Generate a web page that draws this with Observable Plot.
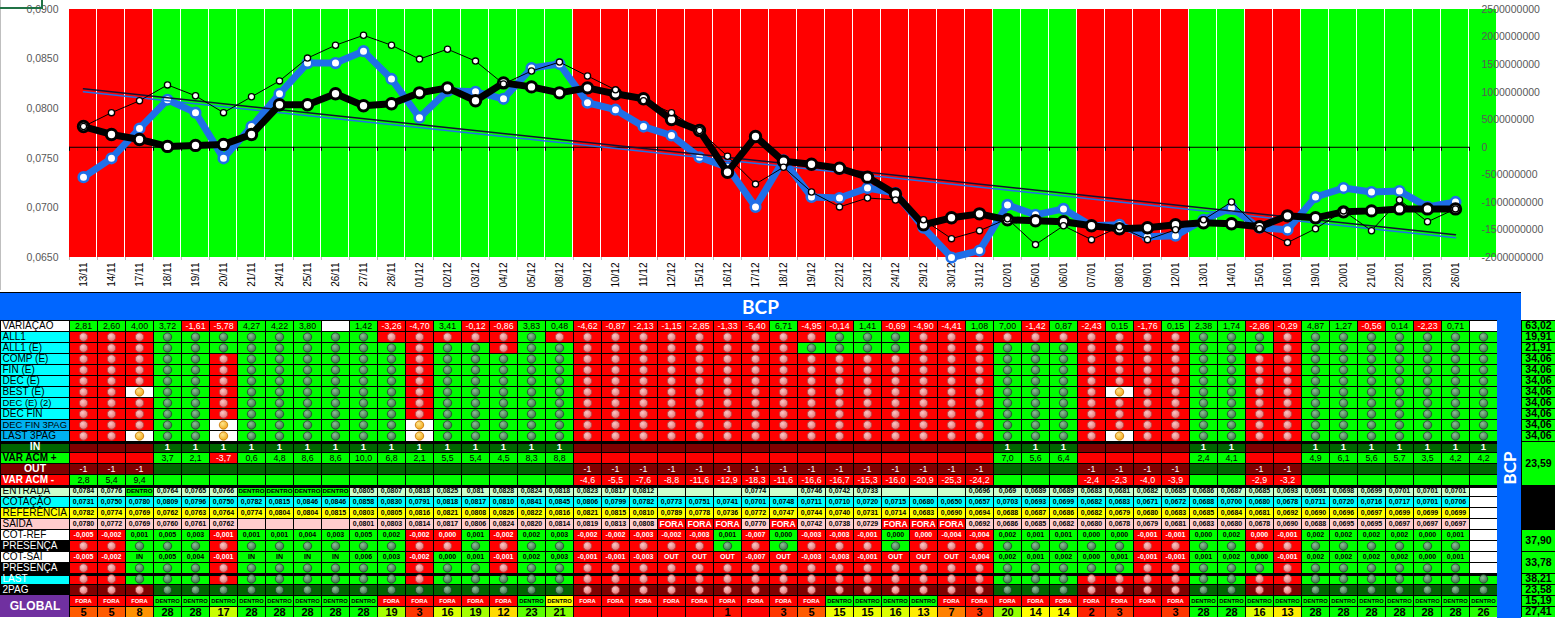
<!DOCTYPE html>
<html><head><meta charset="utf-8">
<script src="https://cdn.jsdelivr.net/npm/d3@7"></script>
<script src="https://cdn.jsdelivr.net/npm/@observablehq/plot@0.6"></script>
<style>
body{margin:0;background:#fff;}
#page{position:relative;width:1555px;height:618px;overflow:hidden;font-family:"Liberation Sans",Arial,sans-serif;}
.abs{position:absolute;}
#hdr{left:0;top:292px;width:1521px;height:27px;background:#0066ff;border-top:1px solid #000;color:#fff;font:bold 19px Lato,"Liberation Sans",sans-serif;display:flex;align-items:center;justify-content:center;}
#bcol{left:1497px;top:320px;width:24px;height:298px;background:#0066ff;}
#bcol span{position:absolute;left:50%;top:148px;transform:translate(-50%,-50%) rotate(-90deg);color:#fff;font:bold 17px Lato,"Liberation Sans",sans-serif;white-space:nowrap;}
#gline{left:0;top:0;width:1px;height:290px;background:#bfbfbf;}
#sel{left:0;top:0;width:41px;height:7px;border-right:2px solid #217346;border-bottom:2px solid #217346;}
</style></head>
<body>
<div id="page">
  <div id="chart" class="abs" style="left:0;top:0"></div>
  <div id="gline" class="abs"></div>
  <div id="sel" class="abs"></div>
  <div id="hdr" class="abs">BCP</div>
  <div id="labels" class="abs" style="left:0;top:320px"></div>
  <div id="grid" class="abs" style="left:69px;top:320px"></div>
  <div id="bcol" class="abs"><span>BCP</span></div>
  <div id="summ" class="abs" style="left:1521px;top:320px"></div>
</div>
<script>
// ---------------- DATA ----------------
const dates = ["13/11","14/11","17/11","18/11","19/11","20/11","21/11","24/11","25/11","26/11","27/11","28/11","01/12","02/12","03/12","04/12","05/12","08/12","09/12","10/12","11/12","12/12","15/12","16/12","17/12","18/12","19/12","22/12","23/12","24/12","29/12","30/12","31/12","02/01","05/01","06/01","07/01","08/01","09/01","12/01","13/01","14/01","15/01","16/01","19/01","20/01","21/01","22/01","23/01","26/01"];
const cotacao = [0.0731,0.0750,0.0780,0.0809,0.0796,0.0750,0.0782,0.0815,0.0846,0.0846,0.0858,0.0830,0.0791,0.0818,0.0817,0.0810,0.0841,0.0845,0.0806,0.0799,0.0782,0.0773,0.0751,0.0741,0.0701,0.0748,0.0711,0.0710,0.0720,0.0715,0.0680,0.0650,0.0657,0.0703,0.0693,0.0699,0.0682,0.0683,0.0671,0.0672,0.0688,0.0700,0.0680,0.0678,0.0711,0.0720,0.0716,0.0717,0.0701,0.0706];
const referencia = [0.0782,0.0774,0.0769,0.0762,0.0763,0.0764,0.0774,0.0804,0.0804,0.0815,0.0803,0.0805,0.0816,0.0821,0.0808,0.0826,0.0822,0.0816,0.0821,0.0815,0.0810,0.0789,0.0778,0.0736,0.0772,0.0747,0.0744,0.0740,0.0731,0.0714,0.0683,0.0690,0.0694,0.0688,0.0687,0.0686,0.0682,0.0679,0.0680,0.0683,0.0685,0.0684,0.0681,0.0692,0.0690,0.0696,0.0697,0.0699,0.0699,0.0699];
const linhaFina = [0.0782,0.0796,0.0808,0.0824,0.0813,0.0796,0.0812,0.0828,0.0851,0.0864,0.0874,0.0864,0.0850,0.0860,0.0848,0.0825,0.0838,0.0847,0.0833,0.0819,0.0808,0.0796,0.0778,0.0752,0.0724,0.0741,0.0716,0.0701,0.0710,0.0708,0.0688,0.0669,0.0677,0.0689,0.0663,0.0682,0.0668,0.0681,0.0668,0.0678,0.0688,0.0706,0.0679,0.0665,0.0679,0.0697,0.0677,0.0708,0.0686,0.0699];
const tendCotacao = [{i:0, v:0.0818},{i:49, v:0.0671}];
const tendReferencia = [{i:0, v:0.0820},{i:49, v:0.0673}];
const leftTicks = [0.065,0.070,0.075,0.080,0.085,0.090];
const rightTicks = [-2000000000,-1500000000,-1000000000,-500000000,0,500000000,1000000000,1500000000,2000000000,2500000000];

const rowLabels = ["VARIAÇÃO","ALL1","ALL1 (E)","COMP (E)","FIN (E)","DEC (E)","BEST (E)","DEC (E) (2)","DEC FIN","DEC FIN 3PAG","LAST 3PAG","IN","VAR ACM +","OUT","VAR ACM -","ENTRADA","COTAÇÃO","REFERÊNCIA","SAIDA","COT-REF","PRESENÇA","COT-SAI","PRESENÇA","LAST","2PAG","GLOBAL",""];
const variacao = [2.81,2.60,4.00,3.72,-1.61,-5.78,4.27,4.22,3.80,null,1.42,-3.26,-4.70,3.41,-0.12,-0.86,3.83,0.48,-4.62,-0.87,-2.13,-1.15,-2.85,-1.33,-5.40,6.71,-4.95,-0.14,1.41,-0.69,-4.90,-4.41,1.08,7.00,-1.42,0.87,-2.43,0.15,-1.76,0.15,2.38,1.74,-2.86,-0.29,4.87,1.27,-0.56,0.14,-2.23,0.71,null];
const all1      = "RRR GGGGGGGG RRRRR G RRRRRRRRRR GGG RRRRRRRRRR GGG R GGGGGGG";
const all1E     = "RRR GGGGGGGGG R GG R GG RRRRRRRR GGGG RRR GGG RRRR GGG R GGGGGGG";
const compE     = "RRR GG R GGGGGG R GGGGG RRRRRRRRRRRRRRR GGG RRRR GG RR GGGGGGG";
const finE      = "RRR GG R GGGGGG R GGGGG RRRRRRRRRRRRRRR GGG RRRR GG RR GGGGGGG";
const decE      = "RRR GG R GGGGGG R GGGGG RRRRRRRRRRRRRRR GGG RRRR GG RR GGGGGGG";
const bestE     = "RRY GG R GGGGGG R GGGGG RRRRRRRRRRRRRRR GGG RYRR GG RR GGGGGGG";
const decE2     = "RRR GG R GGGGGG R GGGGG RRRRRRRRRRRRRRR GGG RRRR GG RR GGGGGGG";
const decFin    = "RRR GG R GGGGGG R GGGGG RRRRRRRRRRRRRRR GGG RRRR GG RR GGGGGGG";
const decFin3   = "RRR GG Y GGGGGG Y GGGGG RRRRRRRRRRRRRRR GGG RRRR GG RR GGGGGGG";
const last3     = "RRY GG Y GGGGGG Y GGGGG RRRRRRRRRRRRRRR GGG RYRR GG RR GGGGGGG";
const inFlag    = "000 111111111111111 000000000000000 111 0000 11 00 1111111";
const outFlag   = "111 000000000000000 111111111111111 000 1111 00 11 0000000";
const varAcmPos = [null,null,null,3.7,2.1,-3.7,0.6,4.8,8.6,8.6,10.0,6.8,2.1,5.5,5.4,4.5,8.3,8.8,null,null,null,null,null,null,null,null,null,null,null,null,null,null,null,7.0,5.6,6.4,null,null,null,null,2.4,4.1,null,null,4.9,6.1,5.6,5.7,3.5,4.2,4.2];
const varAcmNeg = [2.8,5.4,9.4,null,null,null,null,null,null,null,null,null,null,null,null,null,null,null,-4.6,-5.5,-7.6,-8.8,-11.6,-12.9,-18.3,-11.6,-16.6,-16.7,-15.3,-16.0,-20.9,-25.3,-24.2,null,null,null,-2.4,-2.3,-4.0,-3.9,null,null,-2.9,-3.2,null,null,null,null,null,null,null];
const entrada = [0.0784,0.0776,"DENTRO",0.0764,0.0765,0.0766,"DENTRO","DENTRO","DENTRO","DENTRO",0.0805,0.0807,0.0818,0.0825,0.081,0.0828,0.0824,0.0818,0.0823,0.0817,0.0812,null,null,null,0.0774,null,0.0746,0.0742,0.0733,null,null,null,0.0696,0.069,0.0689,0.0689,0.0683,0.0681,0.0682,0.0685,0.0686,0.0687,0.0685,0.0693,0.0691,0.0698,0.0699,0.0701,0.0701,0.0701];
const saida = [0.0780,0.0772,0.0769,0.0760,0.0761,0.0762,null,null,null,null,0.0801,0.0803,0.0814,0.0817,0.0806,0.0824,0.0820,0.0814,0.0819,0.0813,0.0808,"FORA","FORA","FORA",0.0770,"FORA",0.0742,0.0738,0.0729,"FORA","FORA","FORA",0.0692,0.0686,0.0685,0.0682,0.0680,0.0678,0.0679,0.0681,0.0683,0.0680,0.0678,0.0690,0.0688,0.0695,0.0695,0.0697,0.0697,0.0697];
const cotRef = [-0.005,-0.002,0.001,0.005,0.003,-0.001,0.001,0.001,0.004,0.003,0.005,0.002,-0.002,0.000,0.001,-0.002,0.002,0.003,-0.002,-0.002,-0.003,-0.002,-0.003,0.001,-0.007,0.000,-0.003,-0.003,-0.001,0.000,0.000,-0.004,-0.004,0.002,0.001,0.001,0.000,0.000,-0.001,-0.001,0.000,0.002,0.000,-0.001,0.002,0.002,0.002,0.002,0.000,0.001];
const cotRefCor = "RRGGGRGGGG GGRRGRGGRR RRRGRGRRRG RRRGGGGGRR GGRRGGGGGG";
const cotSai = [-0.005,-0.002,"IN",0.005,0.004,-0.001,"IN","IN","IN","IN",0.006,0.003,-0.002,0.000,0.001,-0.001,0.002,0.003,-0.001,-0.001,-0.003,"OUT","OUT","OUT",-0.007,"OUT",-0.003,-0.003,-0.001,"OUT","OUT","OUT",-0.004,0.002,0.001,0.002,0.000,0.001,-0.001,-0.001,0.001,0.002,0.000,-0.001,0.002,0.002,0.002,0.002,0.000,0.001];
const cotSaiCor = "RRGGGRGGGG GGRGGRGGRR RRRRRRRRRR RRRGGGGGRR GGGRGGGGGG";
const lastRow   = "RR GGG R GGGGGG R GGGGG RRRRRRRRRRRRRRR GGG RRRR GG RR GGGGGGG";
const pag2      = "DDD ggggggggggggggg DDDDDDDDDDDDDDD ggg DDDD gg DD ggggggg";
const globalTxt = "FFF DDDDDDDD FFFFF DY FFFFFFFFF DDDD FFFFFFFFF DDDDDDDDDDD";
const globalNum = [5,5,8,28,28,17,28,28,28,28,28,19,3,16,19,12,23,21,null,null,null,null,null,1,null,3,5,15,15,16,13,7,3,20,14,14,2,3,null,3,28,28,16,13,28,28,28,28,28,28,26];
const summaryValues = [63.02,19.91,21.91,34.06,34.06,34.06,34.06,34.06,34.06,34.06,34.06,23.59,null,37.90,33.78,38.21,23.58,15.19,27.41];
const summaryFirstRow = [0,1,2,3,4,5,6,7,8,9,10,11,15,19,21,23,24,25,26];
const summaryLastRow  = [0,1,2,3,4,5,6,7,8,9,10,14,18,20,22,23,24,25,26];

// ---------------- HELPERS / STYLES ----------------
const loc = d3.formatLocale({decimal: ",", thousands: ".", grouping: [3], currency: ["", ""], minus: "-"});
const f1 = loc.format(".1f"), f2 = loc.format(".2f"), f3 = loc.format(".3f"), f4 = loc.format(".4f"), f4t = loc.format(".4~f");
const seq = s => s.replace(/\s+/g, "").split("");
const RED="#ff0000", GREEN="#00ff00", DKGREEN="#006600", DKRED="#800000", WHITE="#ffffff", CYAN="#00ffff", YELLOW="#ffff00", PINK="#ffcccc", LGREEN="#ccffcc", BLACK="#000000";
const stateFill = {R: RED, G: GREEN, Y: WHITE, D: DKRED, g: DKGREEN};
const dotFill = {R: "url(#gR)", G: "url(#gG)", Y: "url(#gY)", D: "url(#gR)", g: "url(#gG)"};
const dotStroke = {R: "#b84444", G: "#24502e", Y: "#c97d0a", D: "#9c2f2f", g: "#1c4224"};
const FONT = '"Liberation Sans", Arial, sans-serif';

// ---------------- CHART ----------------
const cols = d3.range(51);
const series = dates.map((d, i) => ({i, cot: cotacao[i], ref: referencia[i], fin: linhaFina[i]}));
const inArr = seq(inFlag);
const rightToLeft = d3.scaleLinear([-2000000000, 2500000000], [0.065, 0.09]);
const BLUE = "#1f6fe8";

const chart = Plot.plot({
  width: 1555, height: 292,
  marginLeft: 68, marginRight: 58, marginTop: 9, marginBottom: 35,
  x: {type: "band", domain: cols, padding: 0, label: null},
  y: {domain: [0.065, 0.09], label: null},
  color: {type: "identity"},
  style: {background: "transparent", fontFamily: FONT},
  marks: [
    Plot.barY(cols, {x: d => d, y1: () => 0.065, y2: () => 0.09, fill: d => inArr[d] === "1" ? GREEN : RED, insetRight: 1}),
    Plot.ruleY([0], {y: v => rightToLeft(v), x1: () => 0, x2: () => 49, stroke: BLACK, strokeWidth: 1}),
    Plot.ruleX(cols, {x: d => d, y1: () => rightToLeft(0), y2: () => rightToLeft(0), insetBottom: -4, dx: -14, stroke: BLACK}),
    Plot.ruleX(cols, {x: d => d, y1: () => 0.065, y2: () => 0.065, insetBottom: -3, dx: -14, stroke: "#bfbfbf"}),
    Plot.line(series, {x: "i", y: "cot", stroke: BLUE, strokeWidth: 7}),
    Plot.dot(series, {x: "i", y: "cot", r: 4.8, fill: WHITE, stroke: BLUE, strokeWidth: 2.6}),
    Plot.line(tendCotacao, {x: "i", y: "v", stroke: BLUE, strokeWidth: 1.5, dy: 1}),
    Plot.line(tendReferencia, {x: "i", y: "v", stroke: "#111133", strokeWidth: 1.5}),
    Plot.line(series, {x: "i", y: "ref", stroke: BLACK, strokeWidth: 7}),
    Plot.dot(series, {x: "i", y: "ref", r: 5.2, fill: WHITE, stroke: BLACK, strokeWidth: 3}),
    Plot.line(series, {x: "i", y: "fin", stroke: BLACK, strokeWidth: 1}),
    Plot.dot(series, {x: "i", y: "fin", r: 3.1, fill: WHITE, stroke: BLACK, strokeWidth: 1.3}),
    Plot.axisY({ticks: leftTicks, tickSize: 0, tickPadding: 10, tickFormat: f4, fill: "#595959", fontSize: 10.5, label: null}),
    Plot.text(rightTicks, {y: v => rightToLeft(v), text: v => String(v), frameAnchor: "right", textAnchor: "start", dx: -16, fill: "#595959", fontSize: 10.5}),
    Plot.axisX({tickRotate: -90, tickSize: 0, tickPadding: 5, tickFormat: i => dates[i] ?? "", fontSize: 10, fill: BLACK, label: null})
  ]
});
document.getElementById("chart").append(chart);

// ---------------- TABLE GRID ----------------
const indicatorRows = [all1, all1E, compE, finE, decE, bestE, decE2, decFin, decFin3, last3].map(seq);
const outArr = seq(outFlag), lastArr = seq(lastRow), pagArr = seq(pag2), globArr = seq(globalTxt);
const refCor = seq(cotRefCor), saiCor = seq(cotSaiCor);
const globalColor = d3.scaleLinear([0, 14, 28], ["#ff0000", "#ffff00", "#00ff00"]);

const cells = [], dots = [], texts = [];
const cell = (c, r, fill) => cells.push({c, r, fill});
const dot = (c, r, k) => dots.push({c, r, k});
const txt = (c, r, t, s, fg) => texts.push({c, r, t, s, fg});

for (let c = 0; c < 51; c++) {
  const v = variacao[c];
  if (v == null) cell(c, 0, WHITE);
  else { cell(c, 0, v < 0 ? RED : GREEN); txt(c, 0, f2(v), "var", v < 0 ? WHITE : BLACK); }
  indicatorRows.forEach((row, k) => { const s = row[c]; cell(c, k + 1, stateFill[s]); dot(c, k + 1, s); });
  if (inArr[c] === "1") { cell(c, 11, DKGREEN); txt(c, 11, "1", "in", WHITE); } else cell(c, 11, DKRED);
  const p = varAcmPos[c];
  if (p == null) cell(c, 12, RED); else { cell(c, 12, p < 0 ? RED : GREEN); txt(c, 12, f1(p), "var", p < 0 ? WHITE : BLACK); }
  if (outArr[c] === "1") { cell(c, 13, DKRED); txt(c, 13, "-1", "var", WHITE); } else cell(c, 13, DKGREEN);
  const n = varAcmNeg[c];
  if (n == null) cell(c, 14, GREEN); else { cell(c, 14, n < 0 ? RED : GREEN); txt(c, 14, f1(n), "var", n < 0 ? WHITE : BLACK); }
  if (c < dates.length) {
    const e = entrada[c];
    if (e === "DENTRO") { cell(c, 15, GREEN); txt(c, 15, "DENTRO", "dentro", BLACK); }
    else { cell(c, 15, LGREEN); if (e != null) txt(c, 15, f4t(e), "num", BLACK); }
    cell(c, 16, CYAN); txt(c, 16, f4(cotacao[c]), "num", BLACK);
    cell(c, 17, YELLOW); txt(c, 17, f4(referencia[c]), "num", BLACK);
    const s = saida[c];
    if (s === "FORA") { cell(c, 18, RED); txt(c, 18, "FORA", "fora", WHITE); }
    else { cell(c, 18, PINK); if (s != null) txt(c, 18, f4(s), "num", BLACK); }
    cell(c, 19, stateFill[refCor[c]]); txt(c, 19, f3(cotRef[c]), "num", refCor[c] === "R" ? WHITE : BLACK);
    cell(c, 20, stateFill[refCor[c]]); dot(c, 20, refCor[c]);
    const cs = cotSai[c];
    cell(c, 21, stateFill[saiCor[c]]); txt(c, 21, typeof cs === "string" ? cs : f3(cs), "num", saiCor[c] === "R" ? WHITE : BLACK);
    cell(c, 22, stateFill[saiCor[c]]); dot(c, 22, saiCor[c]);
  } else {
    for (let r = 15; r <= 22; r++) cell(c, r, WHITE);
  }
  cell(c, 23, stateFill[lastArr[c]]); dot(c, 23, lastArr[c]);
  cell(c, 24, stateFill[pagArr[c]]); dot(c, 24, pagArr[c]);
  const g = globArr[c];
  if (g === "F") { cell(c, 25, RED); txt(c, 25, "FORA", "glob", WHITE); }
  else { cell(c, 25, g === "Y" ? YELLOW : GREEN); txt(c, 25, "DENTRO", "glob", BLACK); }
  const gn = globalNum[c];
  cell(c, 26, gn == null ? RED : globalColor(gn));
  if (gn != null) txt(c, 26, String(gn), "gnum", BLACK);
}
const separators = [11, 15, 23];
const sepCells = separators.flatMap(r => cols.map(c => ({c, r})));

const textStyles = {
  var:    {fontSize: 8.8, fontWeight: "normal"},
  in:     {fontSize: 9.5, fontWeight: "bold"},
  num:    {fontSize: 7, fontWeight: "bold"},
  dentro: {fontSize: 6.2, fontWeight: "bold"},
  fora:   {fontSize: 8.5, fontWeight: "bold"},
  glob:   {fontSize: 5.8, fontWeight: "bold"},
  gnum:   {fontSize: 11, fontWeight: "bold"}
};

const grid = Plot.plot({
  width: 1428, height: 297, margin: 0,
  x: {type: "band", domain: cols, padding: 0, axis: null},
  y: {type: "band", domain: d3.range(27), padding: 0, axis: null},
  color: {type: "identity"},
  style: {background: "transparent", fontFamily: FONT},
  marks: [
    Plot.cell(cells, {x: "c", y: "r", fill: "fill", stroke: BLACK, strokeWidth: 1, shapeRendering: "crispEdges"}),
    Plot.cell(sepCells, {x: "c", y: "r", fill: BLACK, insetBottom: 8.5, shapeRendering: "crispEdges"}),
    Plot.dot(dots, {x: "c", y: "r", r: 4.2, fill: d => dotFill[d.k], stroke: d => dotStroke[d.k], strokeWidth: 0.9}),
    ...Object.entries(textStyles).map(([k, st]) =>
      Plot.text(texts.filter(t => t.s === k), {x: "c", y: "r", text: "t", fill: "fg", fontSize: st.fontSize, fontWeight: st.fontWeight}))
  ]
});
// glossy gradients for the indicator dots
const defs = d3.select(grid).insert("defs", ":first-child");
[["gR", "#f9c8c8", "#e77272"], ["gG", "#8ebf97", "#3d7549"], ["gY", "#ffe690", "#f2a91c"]].forEach(([id, c0, c1]) => {
  const gr = defs.append("radialGradient").attr("id", id).attr("cx", "40%").attr("cy", "35%").attr("r", "65%");
  gr.append("stop").attr("offset", "0%").attr("stop-color", c0);
  gr.append("stop").attr("offset", "100%").attr("stop-color", c1);
});
document.getElementById("grid").append(grid);

// ---------------- LABEL COLUMN ----------------
const labelBg = [WHITE, CYAN, CYAN, CYAN, CYAN, CYAN, CYAN, CYAN, CYAN, "#00b0f0", "#00b0f0", DKGREEN, GREEN, DKRED, RED, LGREEN, CYAN, YELLOW, PINK, WHITE, BLACK, WHITE, BLACK, CYAN, BLACK, "#7030a0", "#7030a0"];
const labelFg = [BLACK, BLACK, BLACK, BLACK, BLACK, BLACK, BLACK, BLACK, BLACK, BLACK, BLACK, WHITE, BLACK, WHITE, WHITE, BLACK, BLACK, BLACK, BLACK, BLACK, WHITE, BLACK, WHITE, WHITE, WHITE, WHITE, WHITE];
const labelRows = rowLabels.map((t, r) => ({r, t, bg: labelBg[r], fg: labelFg[r]}));
const centered = new Set([11, 13]);
const bold = new Set([12, 14]);
const labels = Plot.plot({
  width: 69, height: 297, margin: 0,
  y: {type: "band", domain: d3.range(27), padding: 0, axis: null},
  color: {type: "identity"},
  style: {background: "transparent", fontFamily: FONT},
  marks: [
    Plot.cell(labelRows.filter(d => d.r < 25), {y: "r", fill: "bg", stroke: BLACK, shapeRendering: "crispEdges"}),
    Plot.cell(labelRows.filter(d => d.r >= 25), {y: "r", fill: "bg", shapeRendering: "crispEdges"}),
    Plot.cell(separators, {y: d => d, fill: BLACK, insetBottom: 8.5, shapeRendering: "crispEdges"}),
    Plot.text(labelRows.filter(d => d.r < 25 && !centered.has(d.r) && !bold.has(d.r)), {y: "r", text: "t", fill: "fg", frameAnchor: "left", textAnchor: "start", dx: 2, fontSize: d => d.t.length > 10 ? 9.4 : 10}),
    Plot.text(labelRows.filter(d => bold.has(d.r)), {y: "r", text: "t", fill: "fg", frameAnchor: "left", textAnchor: "start", dx: 2, fontSize: 10, fontWeight: "bold"}),
    Plot.text(labelRows.filter(d => centered.has(d.r)), {y: "r", text: "t", fill: "fg", fontSize: 10.5, fontWeight: "bold"}),
    Plot.text(labelRows.filter(d => d.r === 25), {y: "r", text: "t", fill: "fg", fontSize: 12, fontWeight: "bold", dy: 5.5})
  ]
});
document.getElementById("labels").append(labels);

// ---------------- SUMMARY COLUMN ----------------
const summ = summaryValues.map((v, k) => ({v, r0: summaryFirstRow[k], r1: summaryLastRow[k] + 1}));
const summary = Plot.plot({
  width: 34, height: 297, margin: 0,
  y: {domain: [0, 27], range: [0, 297], axis: null},
  color: {type: "identity"},
  style: {background: "transparent", fontFamily: FONT},
  marks: [
    Plot.rect(summ, {y1: "r0", y2: "r1", fill: d => d.v == null ? BLACK : GREEN, stroke: BLACK, shapeRendering: "crispEdges"}),
    Plot.text(summ.filter(d => d.v != null), {y: d => (d.r0 + d.r1) / 2, text: d => f2(d.v), fontSize: 10.5, fontWeight: "bold", fill: BLACK})
  ]
});
document.getElementById("summ").append(summary);
</script>
</body></html>
